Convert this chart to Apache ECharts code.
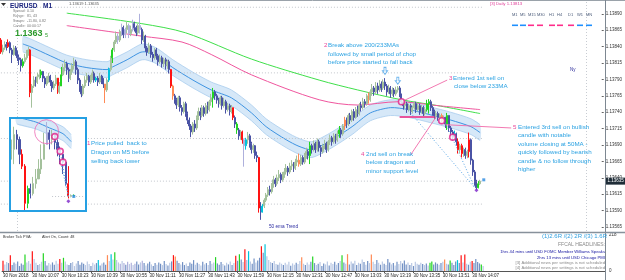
<!DOCTYPE html>
<html><head><meta charset="utf-8">
<script src="https://cdn.jsdelivr.net/npm/echarts@6/dist/echarts.min.js"></script>
<style>html,body{margin:0;padding:0;background:#fff}#c{width:625px;height:280px}</style>
</head><body><div id="c"></div>
<script>
// ---------- DATA ----------
const firstOpen = 1.13850;
const closes = [1.13832,1.13838,1.13843,1.13840,1.13846,1.13835,1.13828,1.13838,1.13832,1.13823,
1.13820,1.13811,1.13817,1.13823,1.13829,1.13835,1.13770,1.13780,1.13789,1.13786,
1.13794,1.13797,1.13802,1.13792,1.13783,1.13789,1.13795,1.13786,1.13777,1.13783,
1.13792,1.13771,1.13780,1.13797,1.13808,1.13814,1.13805,1.13792,1.13802,1.13811,
1.13817,1.13805,1.13789,1.13777,1.13768,1.13780,1.13789,1.13795,1.13786,1.13792,
1.13799,1.13789,1.13792,1.13786,1.13795,1.13789,1.13783,1.13774,1.13789,1.13805,
1.13823,1.13835,1.13847,1.13856,1.13850,1.13863,1.13869,1.13858,1.13866,1.13872,
1.13860,1.13866,1.13875,1.13869,1.13861,1.13872,1.13866,1.13850,1.13856,1.13838,
1.13832,1.13841,1.13828,1.13823,1.13835,1.13826,1.13817,1.13823,1.13814,1.13820,
1.13811,1.13817,1.13805,1.13780,1.13765,1.13759,1.13751,1.13762,1.13747,1.13741,
1.13753,1.13738,1.13728,1.13719,1.13710,1.13722,1.13716,1.13732,1.13741,1.13735,
1.13747,1.13738,1.13750,1.13744,1.13756,1.13762,1.13771,1.13765,1.13759,1.13753,
1.13762,1.13750,1.13756,1.13744,1.13750,1.13741,1.13747,1.13732,1.13722,1.13713,
1.13704,1.13710,1.13698,1.13689,1.13698,1.13704,1.13692,1.13683,1.13689,1.13674,
1.13671,1.13594,1.13588,1.13597,1.13606,1.13614,1.13622,1.13619,1.13629,1.13637,
1.13631,1.13640,1.13645,1.13637,1.13643,1.13649,1.13655,1.13649,1.13658,1.13661,
1.13655,1.13664,1.13667,1.13661,1.13671,1.13664,1.13674,1.13680,1.13674,1.13689,
1.13683,1.13692,1.13683,1.13695,1.13686,1.13680,1.13689,1.13692,1.13683,1.13695,
1.13701,1.13695,1.13704,1.13698,1.13707,1.13713,1.13707,1.13719,1.13728,1.13722,
1.13735,1.13728,1.13741,1.13732,1.13744,1.13738,1.13750,1.13747,1.13756,1.13753,
1.13765,1.13759,1.13771,1.13777,1.13771,1.13780,1.13774,1.13783,1.13777,1.13786,
1.13780,1.13771,1.13777,1.13768,1.13774,1.13768,1.13774,1.13777,1.13768,1.13756,
1.13750,1.13753,1.13744,1.13750,1.13741,1.13747,1.13753,1.13744,1.13750,1.13741,
1.13747,1.13738,1.13744,1.13753,1.13756,1.13747,1.13741,1.13735,1.13738,1.13732,
1.13735,1.13727,1.13732,1.13722,1.13735,1.13716,1.13710,1.13702,1.13707,1.13695,
1.13683,1.13689,1.13677,1.13683,1.13674,1.13680,1.13698,1.13667,1.13649,1.13634,
1.13625,1.13631,1.13635];
const highs = [1.13853,1.13843,1.13848,1.13847,1.13851,1.13848,1.13838,1.13842,1.13841,1.13834,
1.13828,1.13823,1.13822,1.13829,1.13835,1.13840,1.13836,1.13783,1.13795,1.13794,
1.13800,1.13805,1.13805,1.13803,1.13795,1.13795,1.13800,1.13797,1.13789,1.13788,
1.13797,1.13792,1.13786,1.13809,1.13814,1.13820,1.13817,1.13808,1.13806,1.13815,
1.13823,1.13820,1.13808,1.13792,1.13780,1.13783,1.13795,1.13800,1.13797,1.13797,
1.13805,1.13802,1.13794,1.13795,1.13800,1.13797,1.13792,1.13783,1.13792,1.13808,
1.13826,1.13838,1.13850,1.13863,1.13860,1.13866,1.13875,1.13872,1.13869,1.13878,
1.13875,1.13872,1.13881,1.13878,1.13872,1.13875,1.13890,1.13869,1.13863,1.13858,
1.13841,1.13846,1.13844,1.13832,1.13838,1.13838,1.13829,1.13828,1.13826,1.13823,
1.13823,1.13820,1.13820,1.13806,1.13782,1.13768,1.13762,1.13765,1.13765,1.13751,
1.13756,1.13756,1.13741,1.13732,1.13722,1.13725,1.13728,1.13735,1.13747,1.13747,
1.13751,1.13750,1.13754,1.13756,1.13759,1.13768,1.13777,1.13774,1.13768,1.13762,
1.13765,1.13765,1.13762,1.13759,1.13754,1.13753,1.13751,1.13747,1.13735,1.13725,
1.13716,1.13713,1.13712,1.13700,1.13701,1.13710,1.13707,1.13695,1.13692,1.13690,
1.13680,1.13672,1.13603,1.13600,1.13609,1.13617,1.13626,1.13628,1.13632,1.13643,
1.13640,1.13645,1.13652,1.13648,1.13649,1.13655,1.13661,1.13658,1.13663,1.13667,
1.13664,1.13669,1.13674,1.13677,1.13675,1.13674,1.13678,1.13686,1.13683,1.13695,
1.13692,1.13697,1.13695,1.13700,1.13698,1.13690,1.13692,1.13698,1.13695,1.13698,
1.13706,1.13704,1.13708,1.13707,1.13712,1.13719,1.13716,1.13722,1.13733,1.13732,
1.13738,1.13739,1.13744,1.13745,1.13748,1.13750,1.13754,1.13756,1.13762,1.13760,
1.13768,1.13770,1.13775,1.13783,1.13780,1.13786,1.13785,1.13789,1.13787,1.13790,
1.13792,1.13783,1.13782,1.13780,1.13778,1.13777,1.13779,1.13780,1.13780,1.13768,
1.13759,1.13758,1.13756,1.13753,1.13753,1.13750,1.13757,1.13756,1.13754,1.13753,
1.13751,1.13750,1.13748,1.13759,1.13760,1.13759,1.13750,1.13744,1.13742,1.13741,
1.13738,1.13738,1.13735,1.13733,1.13739,1.13735,1.13719,1.13713,1.13712,1.13709,
1.13700,1.13692,1.13692,1.13686,1.13686,1.13683,1.13709,1.13700,1.13669,1.13652,
1.13637,1.13635,1.13637];
const lows = [1.13829,1.13828,1.13835,1.13834,1.13838,1.13830,1.13815,1.13826,1.13826,1.13818,
1.13812,1.13802,1.13808,1.13814,1.13820,1.13826,1.13763,1.13747,1.13777,1.13779,
1.13783,1.13790,1.13792,1.13786,1.13777,1.13780,1.13785,1.13780,1.13771,1.13774,
1.13780,1.13768,1.13768,1.13780,1.13795,1.13802,1.13797,1.13786,1.13789,1.13797,
1.13805,1.13797,1.13783,1.13771,1.13763,1.13765,1.13777,1.13785,1.13780,1.13783,
1.13789,1.13785,1.13786,1.13780,1.13783,1.13783,1.13777,1.13754,1.13771,1.13786,
1.13802,1.13815,1.13832,1.13844,1.13844,1.13847,1.13856,1.13853,1.13853,1.13860,
1.13853,1.13856,1.13863,1.13863,1.13856,1.13858,1.13860,1.13844,1.13847,1.13832,
1.13826,1.13829,1.13823,1.13817,1.13820,1.13820,1.13811,1.13814,1.13808,1.13809,
1.13805,1.13806,1.13799,1.13777,1.13759,1.13753,1.13745,1.13748,1.13741,1.13735,
1.13738,1.13733,1.13722,1.13713,1.13702,1.13706,1.13710,1.13713,1.13728,1.13728,
1.13732,1.13733,1.13735,1.13738,1.13741,1.13750,1.13747,1.13759,1.13753,1.13747,
1.13750,1.13744,1.13747,1.13738,1.13741,1.13735,1.13738,1.13728,1.13716,1.13707,
1.13698,1.13698,1.13692,1.13657,1.13683,1.13692,1.13686,1.13677,1.13678,1.13669,
1.13664,1.13587,1.13576,1.13587,1.13594,1.13603,1.13611,1.13613,1.13616,1.13625,
1.13626,1.13628,1.13635,1.13632,1.13634,1.13640,1.13645,1.13643,1.13646,1.13652,
1.13649,1.13652,1.13658,1.13657,1.13658,1.13660,1.13661,1.13669,1.13668,1.13661,
1.13677,1.13680,1.13678,1.13680,1.13680,1.13672,1.13677,1.13684,1.13678,1.13680,
1.13690,1.13689,1.13692,1.13692,1.13695,1.13701,1.13701,1.13704,1.13713,1.13716,
1.13719,1.13722,1.13725,1.13727,1.13730,1.13733,1.13735,1.13741,1.13744,1.13747,
1.13750,1.13753,1.13756,1.13765,1.13765,1.13768,1.13768,1.13771,1.13771,1.13774,
1.13774,1.13765,1.13768,1.13762,1.13765,1.13763,1.13765,1.13770,1.13763,1.13751,
1.13744,1.13745,1.13739,1.13741,1.13736,1.13738,1.13744,1.13739,1.13741,1.13736,
1.13738,1.13733,1.13735,1.13741,1.13738,1.13742,1.13735,1.13730,1.13730,1.13727,
1.13728,1.13722,1.13724,1.13716,1.13713,1.13710,1.13704,1.13697,1.13698,1.13689,
1.13677,1.13678,1.13671,1.13672,1.13669,1.13670,1.13671,1.13660,1.13643,1.13628,
1.13622,1.13624,1.13629];
const volumes = [62,40,55,48,95,36,52,44,58,30, 46,38,100,52,60,44,120,72,50,36,
42,56,108,60,34,48,40,52,38,62, 44,72,50,80,58,40,36,48,54,30,
46,60,38,52,44,36,58,42,30,50, 40,48,66,34,46,52,38,96,60,102,
70,114,66,52,44,60,48,38,56,42, 50,36,44,58,40,52,62,48,34,46,
56,40,30,48,38,52,44,36,60,42, 34,50,58,96,88,62,48,40,54,36,
46,30,52,44,66,38,50,42,34,56, 40,48,36,60,44,52,84,46,38,54,
42,34,50,40,58,36,48,92,62,102, 70,54,132,66,120,58,44,76,52,64,
80,150,110,162,90,66,54,48,60,42, 38,52,44,36,50,40,56,32,46,38,
50,42,60,84,44,36,52,40,56,88, 48,36,44,54,30,46,40,58,34,50,
42,56,38,48,60,96,52,44,102,40, 58,46,62,36,50,44,70,54,38,60,
48,100,56,42,66,50,38,58,44,36, 72,52,40,48,34,56,42,60,46,64,
40,52,36,48,30,56,44,38,50,42, 36,46,34,50,58,40,52,44,38,48,
56,70,44,40,64,50,36,58,66,48, 96,52,100,44,38,56,60,48,72,54,
46,40,30];
// PVA colour class of individual bars: r=red, g=green, o=orange, c=cyan, l=lavender
const pvaMarks = [[0,'r'],[4,'r'],[12,'g'],[16,'r'],[22,'g'],[31,'r'],[33,'g'],[52,'c'],[57,'o'],[59,'c'],[61,'g'],
[64,'l'],[66,'l'],[68,'l'],[70,'l'],[72,'l'],[76,'l'],[93,'r'],[94,'o'],[116,'g'],[127,'r'],[129,'g'],[132,'r'],[133,'l'],
[134,'c'],[141,'r'],[143,'c'],[163,'o'],[169,'g'],[185,'g'],[188,'o'],[201,'o'],[233,'g'],[234,'g'],[241,'o'],[244,'g'],
[248,'c'],[250,'r'],[252,'r'],[256,'r'],[261,'g']];
const timeLabels = ['30 Nov 2018','30 Nov 10:07','30 Nov 10:23','30 Nov 10:39','30 Nov 10:55','30 Nov 11:11',
'30 Nov 11:27','30 Nov 11:43','30 Nov 11:59','30 Nov 12:15','30 Nov 12:31','30 Nov 12:47','30 Nov 13:03',
'30 Nov 13:19','30 Nov 13:35','30 Nov 13:51','30 Nov 14:07'];
const yTicks = [1.13565,1.13590,1.13615,1.13640,1.13665,1.13690,1.13715,1.13740,1.13765,1.13790,1.13815,1.13840,1.13865,1.13890];
const volTicks = [0,218];
const maGreen = [[36,1.13891],[77,1.13875],[101,1.13861],[137,1.13821],[174,1.13789],[195,1.13774],[219,1.13759],[239,1.13750],[262,1.13738]];
const maPink = [[36,1.13872],[77,1.13856],[99,1.13847],[115,1.13828],[137,1.13797],[174,1.13759],[195,1.13751],[217,1.13756],[239,1.13750],[262,1.13744]];
const dragonMid = [[12,1.13844],[16,1.13840],[27,1.13826],[36,1.13815],[47,1.13808],[58,1.13805],[61,1.13809],[69,1.13820],[76,1.13831],[79,1.13832],[85,1.13826],[94,1.13808],[105,1.13789],[115,1.13774],[126,1.13762],[137,1.13739],[145,1.13718],[156,1.13698],[163,1.13688],[170,1.13683],[181,1.13698],[192,1.13718],[202,1.13739],[213,1.13747],[223,1.13744],[235,1.13736],[246,1.13728],[257,1.13718],[262,1.13709]];
const dragonUpper = [[12,1.13856],[16,1.13852],[27,1.13838],[36,1.13827],[47,1.13820],[58,1.13817],[61,1.13821],[69,1.13832],[76,1.13843],[79,1.13844],[85,1.13838],[94,1.13820],[105,1.13801],[115,1.13786],[126,1.13774],[137,1.13751],[145,1.13730],[156,1.13710],[163,1.13700],[170,1.13695],[181,1.13710],[192,1.13730],[202,1.13751],[213,1.13759],[223,1.13756],[235,1.13748],[246,1.13740],[257,1.13730],[262,1.13721]];
const dragonLower = [[12,1.13832],[16,1.13828],[27,1.13814],[36,1.13803],[47,1.13796],[58,1.13793],[61,1.13797],[69,1.13808],[76,1.13819],[79,1.13820],[85,1.13814],[94,1.13796],[105,1.13777],[115,1.13762],[126,1.13750],[137,1.13727],[145,1.13706],[156,1.13686],[163,1.13676],[170,1.13671],[181,1.13686],[192,1.13706],[202,1.13727],[213,1.13735],[223,1.13732],[235,1.13724],[246,1.13716],[257,1.13706],[262,1.13697]];
const roundLevels = [1.13900,1.13800,1.13700,1.13600];
const bidPrice = 1.13635;
const pivotLevel = 1.13750;
const emaTrendLevel = 1.13574;
const entryCircles = [[219,1.13756],[241,1.13727],[247,1.13702]];
const breakArrows = [[210,1.13803],[217,1.13788]];
const supportLine = [[218,1.13733],[237,1.13733]];
const targetLines = [[[224,1.13739],[259,1.13625]],[[243,1.13724],[259,1.13625]]];
const calloutLines = [[[219,1.13756],[244,1.13789]],[[224,1.13675],[238,1.13733]],[[243,1.13721],[279,1.13716]]];
const lowMark = [[260,1.13621]];
const lastMark = [[264,1.13637]];
// inset (M5 view)
const insetFirstOpen = 1.13724;
const insetCloses = [1.13778,1.13859,1.13832,1.13751,1.13686,1.13482,1.13563,1.13536,1.13590,1.13616,1.13670,1.13724,1.13805,1.13869,1.13832,1.13859,1.13816,1.13778,1.13751,1.13708,1.13590,1.13520,1.13525,1.13525];
const insetHighs = [1.13832,1.13902,1.13885,1.13848,1.13778,1.13697,1.13579,1.13590,1.13627,1.13670,1.13724,1.13805,1.13869,1.13928,1.13885,1.13885,1.13859,1.13832,1.13794,1.13751,1.13670,1.13686,1.13531,1.13531];
const insetLows = [1.13724,1.13697,1.13778,1.13697,1.13670,1.13444,1.13455,1.13509,1.13525,1.13563,1.13616,1.13643,1.13751,1.13805,1.13778,1.13805,1.13778,1.13740,1.13697,1.13643,1.13579,1.13509,1.13515,1.13515];
const insetMarks = [[4,'r'],[5,'r'],[6,'g'],[13,'l'],[21,'r'],[23,'g']];
const insetBandMid = [[2,1.13955],[9,1.13928],[14,1.13896],[19,1.13864],[22,1.13821]];
const insetBandUp = [[2,1.13993],[9,1.13966],[14,1.13934],[19,1.13902],[22,1.13859]];
const insetBandLo = [[2,1.13917],[9,1.13890],[14,1.13858],[19,1.13826],[22,1.13783]];
const insetCircles = [[16,1.13848],[18,1.13767],[19,1.13708]];
const insetFocus = [[13,1.13875]];
const insetLines = [[[16,1.13848],[21,1.13520]],[[18,1.13767],[21,1.13520]]];
const insetLevel = 1.13821;
const insetLow = [[21,1.13493]];
const insetLast = [[23,1.13520]];

// ---------- CHART ----------
const chart = echarts.init(document.getElementById('c'));
const F = '"Liberation Sans", Arial, sans-serif';
const NCAT = 329;
const cats = []; for (let i = 0; i < NCAT; i++) cats.push(String(i));
const icats = []; for (let i = 0; i < 28; i++) icats.push(String(i));
const COL = {r:'#ff1212', g:'#22d422', o:'#ff8a55', c:'#00c4dc', l:'#aeb0dc'};
const BULL = '#a4c19c', BEAR = '#4a53a5';
function buildCandles(cl, hi, lo, fo, marks) {
  const m = {}; marks.forEach(([i,k]) => m[i] = k);
  return cl.map((c, i) => {
    const o = i === 0 ? fo : cl[i-1];
    const v = [o, c, lo[i], hi[i]];
    const k = m[i];
    if (!k) return v;
    const col = COL[k];
    return {value: v, itemStyle: {color: col, color0: col, borderColor: col, borderColor0: col}};
  });
}
const candleData = buildCandles(closes, highs, lows, firstOpen, pvaMarks);
const insetData = buildCandles(insetCloses, insetHighs, insetLows, insetFirstOpen, insetMarks);
const markMap = {}; pvaMarks.forEach(([i,k]) => markMap[i] = k);
const volData = volumes.map((v, i) => {
  const o = i === 0 ? firstOpen : closes[i-1];
  const k = markMap[i];
  return {value: v, itemStyle: {color: k ? COL[k] : (closes[i] >= o ? '#b9c8e4' : '#7190c4')}};
});
const lastCat = closes.length;
const isLabel = (idx) => idx % 16 === 0 && idx / 16 < timeLabels.length;

function bandSeries(xi, yi, up, mid, lo, z) {
  return {type:'custom', xAxisIndex:xi, yAxisIndex:yi, z:z, silent:true, clip:true, data:[[up[0][0], up[0][1]]],
    renderItem: (params, api) => {
      const U = up.map(p => api.coord(p));
      const L = lo.map(p => api.coord(p));
      const M = mid.map(p => api.coord(p));
      return {type:'group', children:[
        {type:'polygon', shape:{points: U.concat(L.slice().reverse()), smooth:0.25}, style:{fill:'#d6e8f8'}},
        {type:'polyline', shape:{points:U, smooth:0.25}, style:{stroke:'#aacdee', lineWidth:0.8, fill:null}},
        {type:'polyline', shape:{points:L, smooth:0.25}, style:{stroke:'#aacdee', lineWidth:0.8, fill:null}},
        {type:'polyline', shape:{points:M, smooth:0.25}, style:{stroke:'#3f94e2', lineWidth:1, fill:null}}
      ]};
    }};
}

const series = [];
series.push(bandSeries(0, 0, dragonUpper, dragonMid, dragonLower, 1));
roundLevels.concat([bidPrice]).forEach(lv => series.push({type:'line', xAxisIndex:0, yAxisIndex:0, z:2, silent:true, symbol:'none',
  data:[[0, lv],[lastCat, lv]], lineStyle:{color:'#c2c6cc', width:1, type:[1,2]}}));
series.push({type:'line', xAxisIndex:0, yAxisIndex:0, z:3, silent:true, symbol:'none', smooth:0.3, data:maGreen, lineStyle:{color:'#3fe04a', width:1}});
series.push({type:'line', xAxisIndex:0, yAxisIndex:0, z:3, silent:true, symbol:'none', smooth:0.3, data:maPink, lineStyle:{color:'#f0569e', width:1}});
series.push({type:'candlestick', xAxisIndex:0, yAxisIndex:0, z:4, silent:true, barWidth:1.5, data:candleData,
  itemStyle:{color:BULL, color0:BEAR, borderColor:BULL, borderColor0:BEAR, borderWidth:1},
  markLine:{silent:true, symbol:'none', label:{show:false}, z:2, data:[
    {yAxis:pivotLevel, lineStyle:{color:'#e2d8b6', width:1, type:'solid'}},
    {yAxis:emaTrendLevel, lineStyle:{color:'#e040e0', width:1, type:[3,2]}},
    {xAxis:320, lineStyle:{color:'#c8ccd2', width:1, type:[1,2]}},
    {xAxis:9, lineStyle:{color:'#c8ccd2', width:1, type:[1,2]}}
  ]}});
series.push({type:'lines', coordinateSystem:'cartesian2d', xAxisIndex:0, yAxisIndex:0, z:5, silent:true,
  data: targetLines.map(c => ({coords:c})), lineStyle:{color:'#5aa7e6', width:1, type:[1,2], opacity:1}});
series.push({type:'lines', coordinateSystem:'cartesian2d', xAxisIndex:0, yAxisIndex:0, z:5, silent:true,
  data: calloutLines.map(c => ({coords:c})), lineStyle:{color:'#f06aa8', width:0.9, opacity:1}});
series.push({type:'lines', coordinateSystem:'cartesian2d', xAxisIndex:0, yAxisIndex:0, z:5, silent:true,
  data: [{coords:supportLine}], lineStyle:{color:'#e8549c', width:2, opacity:1}});
series.push({type:'scatter', xAxisIndex:0, yAxisIndex:0, z:6, silent:true, symbol:'circle', symbolSize:6, data:entryCircles,
  itemStyle:{color:'#fff', borderColor:'#e0208a', borderWidth:1.6}});
series.push({type:'scatter', xAxisIndex:0, yAxisIndex:0, z:6, silent:true, symbol:'path://M3,0L7,0L7,6L10,6L5,12L0,6L3,6Z', symbolSize:[5,7], data:breakArrows,
  itemStyle:{color:'#fff', borderColor:'#4aa3e8', borderWidth:1}});
series.push({type:'scatter', xAxisIndex:0, yAxisIndex:0, z:6, silent:true, symbol:'diamond', symbolSize:4, data:lowMark, itemStyle:{color:'#7a22c8'}});
series.push({type:'scatter', xAxisIndex:0, yAxisIndex:0, z:6, silent:true, symbol:'rect', symbolSize:3, data:lastMark, itemStyle:{color:'#2a8ae0'}});
// volume pane
series.push({type:'bar', xAxisIndex:1, yAxisIndex:1, z:3, silent:true, barWidth:1.2, data:volData});
// inset
series.push(bandSeries(2, 2, insetBandUp, insetBandMid, insetBandLo, 20));
series.push({type:'candlestick', xAxisIndex:2, yAxisIndex:2, z:21, silent:true, barWidth:1.6, data:insetData,
  itemStyle:{color:BULL, color0:BEAR, borderColor:BULL, borderColor0:BEAR, borderWidth:1},
  markLine:{silent:true, symbol:'none', label:{show:false}, data:[{yAxis:insetLevel, lineStyle:{color:'#e2d8b6', width:1, type:'solid'}}]}});
series.push({type:'lines', coordinateSystem:'cartesian2d', xAxisIndex:2, yAxisIndex:2, z:22, silent:true,
  data: insetLines.map(c => ({coords:c})).concat([{coords:[[15,1.13520],[27,1.13520]], lineStyle:{color:'#c2c6cc'}}]), lineStyle:{color:'#5aa7e6', width:1, type:[1,2], opacity:1}});
series.push({type:'scatter', xAxisIndex:2, yAxisIndex:2, z:23, silent:true, symbol:'circle', symbolSize:24, data:insetFocus,
  itemStyle:{color:'rgba(0,0,0,0)', borderColor:'#ee6ab4', borderWidth:1}});
series.push({type:'scatter', xAxisIndex:2, yAxisIndex:2, z:23, silent:true, symbol:'circle', symbolSize:6, data:insetCircles,
  itemStyle:{color:'#fff', borderColor:'#e0208a', borderWidth:1.6}});
series.push({type:'scatter', xAxisIndex:2, yAxisIndex:2, z:23, silent:true, symbol:'diamond', symbolSize:4, data:insetLow, itemStyle:{color:'#7a22c8'}});
series.push({type:'scatter', xAxisIndex:2, yAxisIndex:2, z:23, silent:true, symbol:'rect', symbolSize:3, data:insetLast, itemStyle:{color:'#2a8ae0'}});

chart.setOption({
  animation:false,
  backgroundColor:'#ffffff',
  grid:[
    {left:0, top:2, width:605, height:229},
    {left:0, top:235, width:605, height:36},
    {left:10, top:118, width:76, height:93}
  ],
  xAxis:[
    {type:'category', gridIndex:0, data:cats, show:false},
    {type:'category', gridIndex:1, data:cats,
      axisLine:{show:true, lineStyle:{color:'#555', width:1}},
      axisTick:{show:true, interval:(i)=>isLabel(i), alignWithLabel:true, length:2, lineStyle:{color:'#555'}},
      axisLabel:{show:true, interval:(i)=>isLabel(i), formatter:(v, i)=>timeLabels[i/16] || '', align:'left',
        fontSize:4.5, fontFamily:F, color:'#222', margin:2}},
    {type:'category', gridIndex:2, data:icats, show:false}
  ],
  yAxis:[
    {type:'value', gridIndex:0, position:'right', min:1.13559, max:1.13908, splitLine:{show:false},
      axisLine:{show:false}, axisTick:{show:true, customValues:yTicks, length:2, lineStyle:{color:'#666'}},
      axisLabel:{show:true, customValues:yTicks, formatter:(v)=>v.toFixed(5), fontSize:4.5, fontFamily:F, color:'#333', margin:4}},
    {type:'value', gridIndex:1, position:'right', min:0, max:218, splitLine:{show:false},
      axisLine:{show:false}, axisTick:{show:false},
      axisLabel:{show:true, customValues:volTicks, fontSize:4.5, fontFamily:F, color:'#333', margin:4}},
    {type:'value', gridIndex:2, min:1.1344, max:1.1395, show:false, splitLine:{show:false}}
  ],
  series:series
});

// ---------- TEXT & FRAME ----------
function txt(text, x, y, size, color, o) {
  o = o || {};
  return {type:'text', x:x, y:y, z:o.z || 40, silent:true,
    style:{text:text, fill:color, font:(o.bold ? 'bold ' : '') + size + 'px ' + F, verticalAlign:'middle', align:o.align || 'left'}};
}
const BLUE = '#2ba2e2', PINK = '#e8489a';
const g = [];
g.push({type:'line', z:30, silent:true, shape:{x1:0, y1:0.5, x2:625, y2:0.5}, style:{stroke:'#9aa2aa', lineWidth:1}});
g.push({type:'line', z:30, silent:true, shape:{x1:605.5, y1:0, x2:605.5, y2:280}, style:{stroke:'#7d8791', lineWidth:1}});
g.push({type:'line', z:30, silent:true, shape:{x1:0, y1:232.5, x2:625, y2:232.5}, style:{stroke:'#87919b', lineWidth:1.5}});
// inset frame
g.push({type:'rect', z:10, silent:true, shape:{x:10, y:118, width:76, height:93}, style:{fill:'#ffffff'}});
g.push({type:'rect', z:30, silent:true, shape:{x:10, y:118, width:76, height:93}, style:{fill:null, stroke:'#25a0e3', lineWidth:2}});
// header
g.push({type:'polygon', z:40, silent:true, shape:{points:[[1,3],[6,3],[3.5,6]]}, style:{fill:'#333'}});
g.push(txt('EURUSD', 10, 6, 6.5, '#1a237e', {bold:true}));
g.push(txt('M1', 43, 6, 6.5, '#1a237e', {bold:true}));
g.push(txt('1.13619 1.13635', 69, 4, 4, '#555'));
[['Spread:','0.10',11],['Range:','81, 43',16],['Swaps:','-11.80, 0.82',21],['Candle:','00:00:17',26]].forEach(r => {
  g.push(txt(r[0], 13, r[2], 3.6, '#777')); g.push(txt(r[1], 27, r[2], 3.6, '#777'));
});
g.push(txt('1.1363', 15, 34, 9, '#2b9a2b', {bold:true}));
g.push(txt('5', 45, 35, 5.5, '#2b9a2b'));
g.push(txt('[3] Daily 1.13813', 490, 3.5, 4.3, '#e0409a'));
[['M1',512,'#1e90ff'],['M5',520,'#1e90ff'],['M15',528,'#ff2d8a'],['M30',537,'#ff2d8a'],['H1',549,'#ff2d8a'],['H4',557,'#ff2d8a'],['D1',568,'#ff2d8a'],['W1',577,'#1e90ff'],['MN',586,'#1e90ff']].forEach(t => {
  g.push(txt(t[0], t[1], 15, 4, '#4a5a78'));
  g.push({type:'rect', z:40, silent:true, shape:{x:t[1], y:24.5, width:6, height:1.6}, style:{fill:t[2]}});
});
g.push(txt('Ny', 570, 70, 4.5, '#2a2a9a'));
g.push(txt('50 ema Trend', 269, 227, 4.7, '#2a2aa0'));
// annotations
g.push(txt('1', 87, 143, 6.2, PINK));
[['Price pulled  back to',143],['Dragon on M5 before',152],['selling back lower',161]].forEach(r => g.push(txt(r[0], 91, r[1], 6.2, BLUE)));
g.push(txt('2', 324, 45, 6.2, PINK));
[['Break above 200/233MAs',45],['followed by small period of chop',54],['before price started to fall back',62.5]].forEach(r => g.push(txt(r[0], 328, r[1], 6.2, BLUE)));
g.push(txt('3', 449, 78, 6.2, PINK));
g.push(txt('Entered 1st sell on', 453, 78, 6.2, BLUE));
g.push(txt('close below 233MA', 454, 86.5, 6.2, BLUE));
g.push(txt('4', 361, 154, 6.2, PINK));
[['2nd sell on break',154],['below dragon and',162.5],['minor support level',171]].forEach(r => g.push(txt(r[0], 366, r[1], 6.2, BLUE)));
g.push(txt('5', 513, 127, 6.2, PINK));
[['Entered 3rd sell on bullish',127],['candle with notable',135.5],['volume closing at 50MA -',144],['quickly followed by bearish',152.5],['candle & no follow through',161],['higher',169.5]].forEach(r => g.push(txt(r[0], 518, r[1], 6.2, BLUE)));
// indicator pane texts
g.push(txt('Broker Tick PVA:', 3, 236.5, 3.8, '#333'));
g.push(txt('Alert On,', 42, 236.5, 3.8, '#333'));
g.push(txt('Count: 48', 58, 236.5, 3.8, '#333'));
g.push(txt('(1)2.6R /(2) 2R /(3) 1.6R', 607, 236.5, 6, '#2e9fe0', {align:'right', z:45}));
g.push(txt('FFCAL HEADLINES:', 605, 245, 5, '#8a8a8a', {align:'right'}));
g.push(txt('1hrs 44 mins until USD FOMC Member Williams Speaks', 605, 252, 4.2, '#1414a0', {align:'right'}));
g.push(txt('2hrs 13 mins until USD Chicago PMI', 605, 257.5, 4.2, '#1414a0', {align:'right'}));
g.push(txt('[3] Additional news per settings is not scheduled', 605, 263, 4.2, '#8a8a8a', {align:'right'}));
g.push(txt('[4] Additional news per settings is not scheduled', 605, 268, 4.2, '#8a8a8a', {align:'right'}));
// current price label on the axis
const py = chart.convertToPixel({yAxisIndex:0}, bidPrice);
g.push({type:'rect', z:60, silent:true, shape:{x:606, y:py-3.5, width:19, height:7}, style:{fill:'#1f2d38'}});
g.push(txt(bidPrice.toFixed(5), 607.5, py, 4.5, '#ffffff', {z:61}));
chart.setOption({graphic:g});
</script>
</body></html>
